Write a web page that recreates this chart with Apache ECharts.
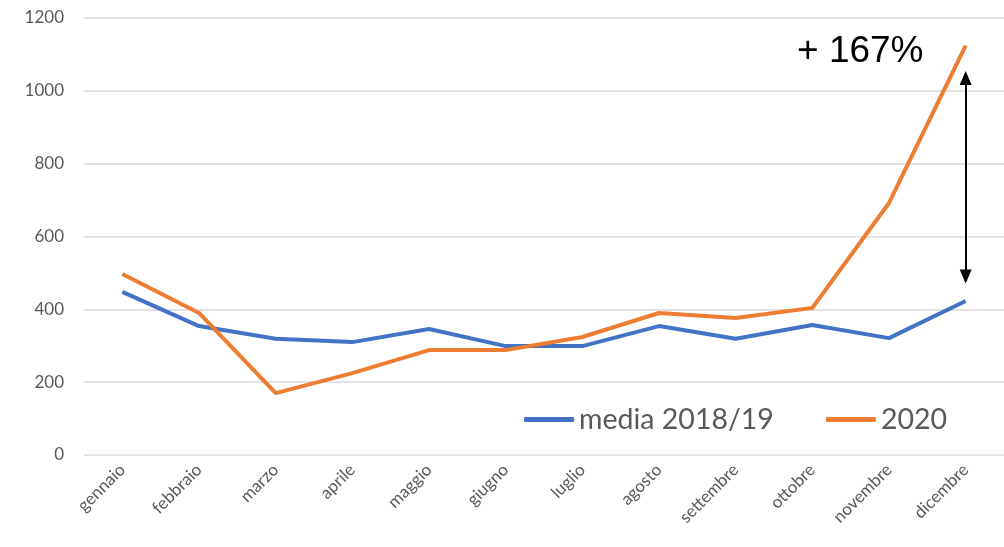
<!DOCTYPE html>
<html>
<head>
  <meta charset="utf-8">
  <title>media 2018/19 vs 2020</title>
  <script src="https://cdn.jsdelivr.net/npm/echarts@6.0.0/dist/echarts.min.js"></script>
  <style>
    body { margin: 0; background: #fff; }
    #chart { width: 1004px; height: 547px; }
  </style>
</head>
<body>
  <div id="chart"></div>
  <script>
    const mesi = ['gennaio', 'febbraio', 'marzo', 'aprile', 'maggio', 'giugno',
      'luglio', 'agosto', 'settembre', 'ottobre', 'novembre', 'dicembre'];
    const media1819 = [448, 354, 319, 310, 346, 299, 299, 354, 319, 357, 321, 423];
    const anno2020 = [497, 390, 170, 225, 288, 288, 324, 390, 376, 404, 692, 1124];
    // freccia di confronto su dicembre
    const frecciaDa = 490;
    const frecciaA = 1035;
    const etichetta = '+ 167%';

    const chart = echarts.init(document.getElementById('chart'));
    chart.setOption({
      animation: false,
      grid: { left: 84, right: 0, top: 18, bottom: 92 },
      legend: {
        right: 52,
        top: 400,
        itemWidth: 50,
        itemHeight: 5,
        itemGap: 52,
        icon: 'roundRect',
        textStyle: { fontFamily: 'Lato', fontSize: 28.5, color: '#595959' },
        data: ['media 2018/19', '2020']
      },
      xAxis: {
        type: 'category',
        data: mesi,
        axisLine: { show: false },
        axisTick: { show: false },
        axisLabel: {
          rotate: 45,
          margin: 12,
          interval: 0,
          fontFamily: 'Lato',
          fontSize: 17,
          color: '#595959'
        }
      },
      yAxis: {
        type: 'value',
        min: 0,
        max: 1200,
        interval: 200,
        axisLabel: {
          fontFamily: 'Lato', fontSize: 17, color: '#595959', margin: 20,
          formatter: v => String(v)
        },
        splitLine: { lineStyle: { color: '#d9d9d9', width: 1.5 } }
      },
      series: [
        {
          name: 'media 2018/19',
          type: 'line',
          data: media1819,
          symbol: 'none',
          itemStyle: { color: '#4472C4' },
          lineStyle: { width: 4, color: '#4472C4' }
        },
        {
          name: '2020',
          type: 'line',
          data: anno2020,
          symbol: 'none',
          itemStyle: { color: '#ED7D31' },
          lineStyle: { width: 4, color: '#ED7D31' },
          markLine: {
            silent: true,
            symbol: ['triangle', 'triangle'],
            symbolSize: [12, 14],
            symbolOffset: [[0, 0], [0, 0]],
            label: { show: false },
            lineStyle: { color: '#000', width: 2, type: 'solid' },
            data: [[
              { coord: [11, frecciaDa] },
              { coord: [11, frecciaA] }
            ]]
          }
        }
      ],
      graphic: [{
        type: 'text',
        left: 797,
        top: 33,
        style: {
          text: etichetta,
          fontFamily: 'Liberation Sans',
          fontSize: 37,
          fill: '#000'
        }
      }]
    });
  </script>
</body>
</html>
